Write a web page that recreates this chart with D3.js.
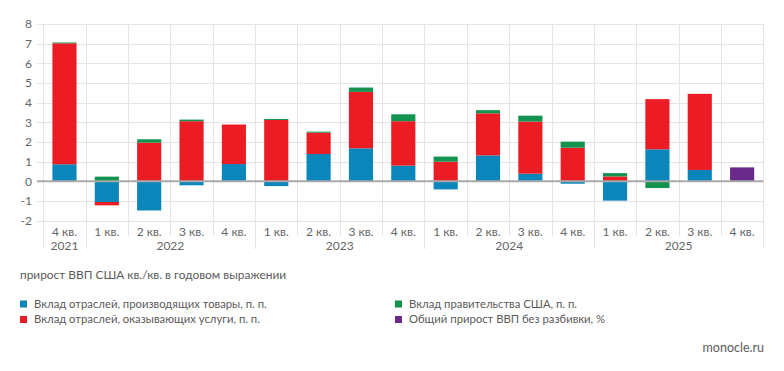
<!DOCTYPE html>
<html>
<head>
<meta charset="utf-8">
<script src="https://cdn.jsdelivr.net/npm/d3@7"></script>
<style>
  body { margin: 0; background: #fff; }
  svg { display: block; font-family: Lato, "Open Sans", sans-serif; }
  .grid line { stroke: #e4e4e4; stroke-width: 1; shape-rendering: crispEdges; }
  .tick-label { fill: #666; font-size: 12px; }
  .legend text { fill: #5a5a5a; font-size: 11.3px; }
  .legend .title { font-size: 11.9px; }
  .legend .source { font-size: 12.5px; }
</style>
</head>
<body>
<svg width="784" height="371"></svg>
<script>
// periods of the chart, one bar each
const periods = ["2021-4", "2022-1", "2022-2", "2022-3", "2022-4", "2023-1", "2023-2", "2023-3", "2023-4",
                 "2024-1", "2024-2", "2024-3", "2024-4", "2025-1", "2025-2", "2025-3", "2025-4"];
const quarterLabels = ["4 кв.", "1 кв.", "2 кв.", "3 кв.", "4 кв.", "1 кв.", "2 кв.", "3 кв.", "4 кв.",
                       "1 кв.", "2 кв.", "3 кв.", "4 кв.", "1 кв.", "2 кв.", "3 кв.", "4 кв."];
const years = ["2021", "2022", "2023", "2024", "2025"];

// contributions, p.p.
const goods      = [0.87, -1.05, -1.48, -0.20, 0.88, -0.24, 1.39, 1.68, 0.80, -0.41, 1.32, 0.39, -0.12, -0.98, 1.63, 0.58, 0];
const services   = [6.15, -0.17, 1.97, 3.06, 2.01, 3.12, 1.09, 2.87, 2.26, 1.00, 2.14, 2.65, 1.71, 0.25, 2.55, 3.87, 0];
const government = [0.04, 0.24, 0.17, 0.08, 0.00, 0.05, 0.05, 0.22, 0.35, 0.26, 0.16, 0.30, 0.31, 0.17, -0.34, 0.00, 0];
const totalOnly  = [0, 0, 0, 0, 0, 0, 0, 0, 0, 0, 0, 0, 0, 0, 0, 0, 0.71];

const yTicks = [-2, -1, 0, 1, 2, 3, 4, 5, 6, 7, 8];

const seriesNames = ["Вклад отраслей, производящих товары, п. п.", "Вклад отраслей, оказывающих услуги, п. п.",
                     "Вклад правительства США, п. п.", "Общий прирост ВВП без разбивки, %"];
const colors = ["#0a86bb", "#ec1c24", "#12934f", "#6a2a8a"];
const legendTitle = "прирост ВВП США кв./кв. в годовом выражении";

const svg = d3.select("svg");

const x = d3.scaleBand()
    .domain(periods)
    .range([43.3, 763.3])
    .paddingInner(0.43)
    .paddingOuter(0.215);

const y = d3.scaleLinear()
    .domain([-2, 8])
    .range([220.7, 24]);

const gridLeft = 37, gridRight = 763.3;

// horizontal grid
const grid = svg.append("g").attr("class", "grid");
grid.selectAll(".h")
    .data(yTicks.filter(d => d !== 0))
    .enter()
    .append("line")
    .attr("x1", gridLeft)
    .attr("x2", gridRight)
    .attr("y1", d => Math.round(y(d)) + 0.5)
    .attr("y2", d => Math.round(y(d)) + 0.5);

// vertical separators: at each band edge; year boundaries go lower
const yearOf = p => p.split("-")[0];
const edges = periods.map((p, i) => ({
    x: x(p) - x.step() * x.paddingInner() / 2,
    yearStart: i === 0 || yearOf(periods[i - 1]) !== yearOf(p)
}));
edges.push({ x: x(periods[periods.length - 1]) + x.bandwidth() + x.step() * x.paddingInner() / 2, yearStart: true });

grid.selectAll(".v")
    .data(edges)
    .enter()
    .append("line")
    .attr("x1", d => Math.round(d.x) + 0.5)
    .attr("x2", d => Math.round(d.x) + 0.5)
    .attr("y1", y(8))
    .attr("y2", d => d.yearStart ? 249 : 236);

// stacked bars
const rows = periods.map((p, i) => ({
    period: p, goods: goods[i], services: services[i], government: government[i], total: totalOnly[i]
}));
const keys = ["goods", "services", "government", "total"];
const stack = d3.stack().keys(keys).offset(d3.stackOffsetDiverging);
const layers = stack(rows);

svg.append("g")
    .selectAll("g")
    .data(layers)
    .enter()
    .append("g")
    .attr("fill", (d, i) => colors[i])
    .selectAll("rect")
    .data(d => d.filter(s => s[1] !== s[0]))
    .enter()
    .append("rect")
    .attr("x", d => x(d.data.period))
    .attr("width", x.bandwidth())
    .attr("y", d => y(Math.max(d[0], d[1])))
    .attr("height", d => Math.abs(y(d[0]) - y(d[1])));

// zero line
svg.append("line")
    .attr("x1", gridLeft)
    .attr("x2", gridRight)
    .attr("y1", y(0))
    .attr("y2", y(0))
    .attr("stroke", "#a9a9a9")
    .attr("stroke-width", 2);

// y labels
svg.append("g")
    .selectAll("text")
    .data(yTicks)
    .enter()
    .append("text")
    .attr("class", "tick-label")
    .attr("x", 32)
    .attr("y", d => y(d))
    .attr("dy", "0.35em")
    .attr("text-anchor", "end")
    .text(d => d);

// quarter labels
svg.append("g")
    .selectAll("text")
    .data(periods)
    .enter()
    .append("text")
    .attr("class", "tick-label")
    .attr("x", d => x(d) + x.bandwidth() / 2)
    .attr("y", 235.5)
    .attr("text-anchor", "middle")
    .text((d, i) => quarterLabels[i]);

// year labels, centred on their quarters
svg.append("g")
    .selectAll("text")
    .data(years)
    .enter()
    .append("text")
    .attr("class", "tick-label")
    .attr("x", yr => {
        const ps = periods.filter(p => yearOf(p) === yr);
        const a = x(ps[0]), b = x(ps[ps.length - 1]) + x.bandwidth();
        return (a + b) / 2;
    })
    .attr("y", 250)
    .attr("text-anchor", "middle")
    .text(d => d);

// legend
const legend = svg.append("g").attr("class", "legend");
legend.append("text")
    .attr("class", "title")
    .attr("x", 20)
    .attr("y", 279)
    .text(legendTitle);

const legendPos = [[20, 304], [20, 319.5], [395, 304], [395, 319.5]];
const item = legend.selectAll(".item")
    .data(seriesNames)
    .enter()
    .append("g")
    .attr("transform", (d, i) => `translate(${legendPos[i][0]},${legendPos[i][1]})`);
item.append("rect")
    .attr("x", 0)
    .attr("y", -3.5)
    .attr("width", 7)
    .attr("height", 7)
    .attr("fill", (d, i) => colors[i]);
item.append("text")
    .attr("x", 14)
    .attr("dy", "0.35em")
    .text(d => d);

legend.append("text")
    .attr("class", "source")
    .attr("x", 764)
    .attr("y", 352)
    .attr("text-anchor", "end")
    .text("monocle.ru");
</script>
</body>
</html>
